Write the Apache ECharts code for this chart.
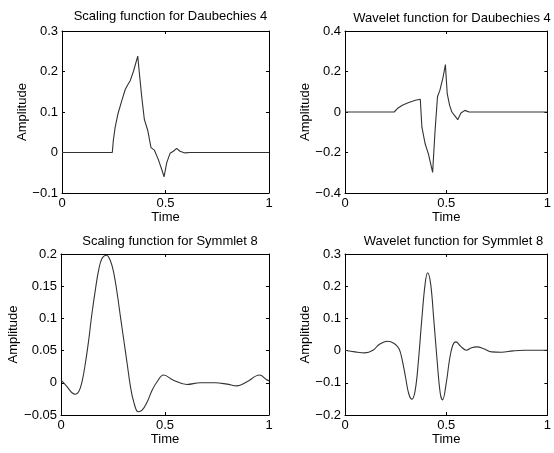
<!DOCTYPE html>
<html>
<head>
<meta charset="utf-8">
<script src="https://cdn.jsdelivr.net/npm/echarts@6/dist/echarts.min.js"></script>
<style>
  html, body { margin: 0; padding: 0; background: #fff; }
  #chart { width: 554px; height: 453px; }
</style>
</head>
<body>
<div id="chart"></div>
<script>
// values (time, amplitude)
var db4ScaleT = [0, 0.243, 0.248, 0.256, 0.27, 0.29, 0.305, 0.315, 0.33, 0.345, 0.366, 0.373, 0.385, 0.398, 0.414, 0.43, 0.446, 0.465, 0.482, 0.493, 0.506, 0.522, 0.538, 0.554, 0.57, 0.594, 0.618, 1];
var db4ScaleV = [0, 0, 0.03, 0.06, 0.095, 0.13, 0.155, 0.165, 0.178, 0.2, 0.238, 0.2, 0.138, 0.081, 0.055, 0.012, 0.006, -0.017, -0.042, -0.06, -0.025, -0.002, 0.003, 0.01, 0.003, -0.001, 0, 0];

var db4WaveT = [0, 0.243, 0.259, 0.283, 0.315, 0.348, 0.372, 0.38, 0.396, 0.412, 0.433, 0.444, 0.457, 0.469, 0.485, 0.496, 0.505, 0.517, 0.528, 0.541, 0.557, 0.573, 0.592, 0.613, 1];
var db4WaveV = [0, 0, 0.017, 0.033, 0.047, 0.058, 0.063, -0.075, -0.157, -0.207, -0.298, -0.108, 0.075, 0.108, 0.174, 0.234, 0.091, 0.033, 0, -0.017, -0.038, -0.005, 0.008, 0, 0];

var sym8ScaleT = [0, 0.029, 0.053, 0.069, 0.085, 0.101, 0.117, 0.133, 0.149, 0.165, 0.181, 0.197, 0.218, 0.237, 0.254, 0.27, 0.286, 0.302, 0.318, 0.334, 0.35, 0.371, 0.39, 0.414, 0.438, 0.462, 0.493, 0.541, 0.605, 0.669, 0.741, 0.798, 0.846, 0.894, 0.955, 0.987, 1];
var sym8ScaleV = [0.004, -0.006, -0.0155, -0.0177, -0.014, 0.0016, 0.03, 0.066, 0.108, 0.144, 0.175, 0.193, 0.198, 0.19, 0.17, 0.139, 0.102, 0.066, 0.03, -0.006, -0.03, -0.045, -0.0425, -0.03, -0.0115, 0.0016, 0.012, 0.004, -0.0026, 0, 0, -0.002, -0.0047, 0.0016, 0.012, 0.005, 0.003];

var sym8WaveT = [0, 0.05, 0.098, 0.138, 0.17, 0.21, 0.243, 0.267, 0.283, 0.299, 0.315, 0.331, 0.347, 0.363, 0.379, 0.396, 0.408, 0.423, 0.439, 0.455, 0.471, 0.482, 0.5, 0.516, 0.532, 0.548, 0.572, 0.6, 0.625, 0.653, 0.685, 0.725, 0.773, 0.83, 0.886, 1];
var sym8WaveV = [0.001, -0.004, -0.007, 0.001, 0.0196, 0.029, 0.022, 0.006, -0.03, -0.082, -0.134, -0.151, -0.123, -0.03, 0.094, 0.208, 0.242, 0.208, 0.094, -0.03, -0.134, -0.153, -0.102, -0.03, 0.016, 0.027, 0.013, 0.001, 0.009, 0.0115, 0.006, -0.004, -0.005, -0.001, 0.001, 0.001];

var titles = ['Scaling function for Daubechies 4', 'Wavelet function for Daubechies 4',
              'Scaling function for Symmlet 8', 'Wavelet function for Symmlet 8'];
var yMins = [-0.1, -0.4, -0.05, -0.2];
var yMaxs = [0.3, 0.4, 0.2, 0.3];
var yIntervals = [0.1, 0.2, 0.05, 0.1];

var font = '"Liberation Sans", Arial, sans-serif';

var grids = [
  { left: 62, top: 31, width: 207, height: 162 },
  { left: 345, top: 31, width: 207, height: 162 },
  { left: 61, top: 254, width: 208, height: 161 },
  { left: 345, top: 254, width: 207, height: 161 }
];
var titleTops = [5, 7, 230, 230];
var titleCenters = [165.5, 447, 165, 448.5];
var amplitudeGaps = [27, 33, 36, 33];

function fmt(v) {
  return String(Math.round(v * 100) / 100).replace('-', '\u2212');
}

function pairs(ts, vs) {
  return ts.map(function (t, i) { return [t, vs[i]]; });
}

var lineStyle = { color: '#000', width: 1 };

var xAxes = [], yAxes = [], series = [], titleOpts = [];
for (var i = 0; i < 4; i++) {
  titleOpts.push({
    text: titles[i],
    left: titleCenters[i],
    top: titleTops[i],
    textAlign: 'center',
    textStyle: { fontFamily: font, fontSize: 13, fontWeight: 'normal', color: '#000' }
  });
  xAxes.push({
    type: 'value', gridIndex: i, min: 0, max: 1, interval: 0.5,
    name: 'Time', nameLocation: 'middle', nameGap: 14,
    nameTextStyle: { fontFamily: font, fontSize: 13, color: '#000' },
    axisLine: { show: true, onZero: false, lineStyle: lineStyle },
    axisTick: { show: true, inside: true, length: 3, lineStyle: lineStyle },
    axisLabel: { fontFamily: font, fontSize: 13, color: '#000', margin: 4, formatter: fmt },
    splitLine: { show: false }
  });
  xAxes.push({
    type: 'value', gridIndex: i, position: 'top', min: 0, max: 1, interval: 0.5,
    axisLine: { show: true, onZero: false, lineStyle: lineStyle },
    axisTick: { show: true, inside: true, length: 3, lineStyle: lineStyle },
    axisLabel: { show: false },
    splitLine: { show: false }
  });
  yAxes.push({
    type: 'value', gridIndex: i, min: yMins[i], max: yMaxs[i], interval: yIntervals[i],
    name: 'Amplitude', nameLocation: 'middle', nameGap: amplitudeGaps[i],
    nameTextStyle: { fontFamily: font, fontSize: 13, color: '#000' },
    axisLine: { show: true, onZero: false, lineStyle: lineStyle },
    axisTick: { show: true, inside: true, length: 3, lineStyle: lineStyle },
    axisLabel: { fontFamily: font, fontSize: 13, color: '#000', margin: 4, formatter: fmt },
    splitLine: { show: false }
  });
  yAxes.push({
    type: 'value', gridIndex: i, position: 'right', min: yMins[i], max: yMaxs[i], interval: yIntervals[i],
    axisLine: { show: true, onZero: false, lineStyle: lineStyle },
    axisTick: { show: true, inside: true, length: 3, lineStyle: lineStyle },
    axisLabel: { show: false },
    splitLine: { show: false }
  });
}

var seriesData = [
  { t: db4ScaleT, v: db4ScaleV, smooth: false },
  { t: db4WaveT, v: db4WaveV, smooth: false },
  { t: sym8ScaleT, v: sym8ScaleV, smooth: 0.4 },
  { t: sym8WaveT, v: sym8WaveV, smooth: 0.4 }
];
seriesData.forEach(function (s, i) {
  series.push({
    type: 'line',
    xAxisIndex: i * 2,
    yAxisIndex: i * 2,
    data: pairs(s.t, s.v),
    showSymbol: false,
    smooth: s.smooth,
    lineStyle: { color: '#333', width: 1.1 },
    animation: false
  });
});

var chart = echarts.init(document.getElementById('chart'), null, { renderer: 'canvas' });
chart.setOption({
  backgroundColor: '#fff',
  animation: false,
  title: titleOpts,
  grid: grids,
  xAxis: xAxes,
  yAxis: yAxes,
  series: series
});
</script>
</body>
</html>
